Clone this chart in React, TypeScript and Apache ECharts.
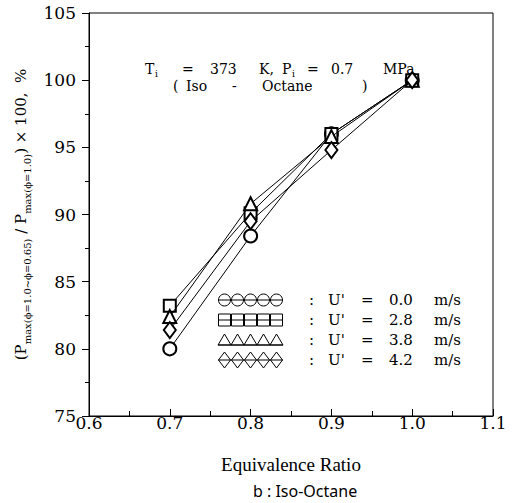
import React, { useEffect, useRef } from "react";
import * as echarts from "echarts";

const phi = [0.7, 0.8, 0.9, 1.0];
const u00 = [80.0, 88.4, 96.0, 100.0];
const u28 = [83.2, 90.1, 96.0, 100.0];
const u38 = [82.4, 90.8, 95.8, 100.0];
const u42 = [81.4, 89.5, 94.8, 100.0];
const speeds = ["0.0", "2.8", "3.8", "4.2"];
const seriesNames = ["U' = 0.0 m/s", "U' = 2.8 m/s", "U' = 3.8 m/s", "U' = 4.2 m/s"];
const symbols = ["emptyCircle", "emptyRect", "emptyTriangle", "emptyDiamond"];
const symbolSizes: any[] = [13, 12, 13, [12, 16]];

const SERIF = "DejaVu Serif";

function legendGraphics() {
  const els: any[] = [];
  const rowsY = [300, 320, 340, 360];
  const x0 = 218;
  const step = 13;
  rowsY.forEach((y, r) => {
    const lineY = r === 2 ? y + 5 : y;
    els.push({
      type: "line",
      shape: { x1: x0, y1: lineY, x2: x0 + step * 5, y2: lineY },
      style: { stroke: "#000", lineWidth: 1 },
    });
    for (let i = 0; i < 5; i++) {
      const cx = x0 + step / 2 + i * step;
      const st = { fill: "none", stroke: "#000", lineWidth: 1 };
      if (r === 0) els.push({ type: "circle", shape: { cx, cy: y, r: 6 }, style: st });
      else if (r === 1) els.push({ type: "rect", shape: { x: cx - 6, y: y - 6, width: 12, height: 12 }, style: st });
      else if (r === 2)
        els.push({ type: "polygon", shape: { points: [[cx - 6.5, y + 5], [cx, y - 6], [cx + 6.5, y + 5]] }, style: st });
      else
        els.push({ type: "polygon", shape: { points: [[cx, y - 8], [cx + 6, y], [cx, y + 8], [cx - 6, y]] }, style: st });
    }
    const font = { fontFamily: SERIF, fontSize: 15, fill: "#000", verticalAlign: "middle", align: "left" };
    els.push({ type: "text", x: 309, y, style: { ...font, text: ":" } });
    els.push({ type: "text", x: 328, y, style: { ...font, text: "U'" } });
    els.push({ type: "text", x: 361, y, style: { ...font, text: "=" } });
    els.push({ type: "text", x: 389, y, style: { ...font, text: speeds[r] } });
    els.push({ type: "text", x: 434, y, style: { ...font, text: "m/s" } });
  });
  return els;
}

function titleGraphics() {
  const els: any[] = [];
  const base = { fontFamily: SERIF, fontSize: 14, fill: "#000", verticalAlign: "middle", align: "left" };
  const sub = { fontFamily: SERIF, fontSize: 9, fill: "#000", verticalAlign: "middle", align: "left" };
  const y1 = 69;
  els.push({ type: "text", x: 145, y: y1, style: { ...base, text: "T" } });
  els.push({ type: "text", x: 155, y: y1 + 5, style: { ...sub, text: "i" } });
  els.push({ type: "text", x: 182, y: y1, style: { ...base, text: "=" } });
  els.push({ type: "text", x: 210, y: y1, style: { ...base, text: "373" } });
  els.push({ type: "text", x: 259, y: y1, style: { ...base, text: "K," } });
  els.push({ type: "text", x: 282, y: y1, style: { ...base, text: "P" } });
  els.push({ type: "text", x: 292, y: y1 + 5, style: { ...sub, text: "i" } });
  els.push({ type: "text", x: 307, y: y1, style: { ...base, text: "=" } });
  els.push({ type: "text", x: 331, y: y1, style: { ...base, text: "0.7" } });
  els.push({ type: "text", x: 383, y: y1, style: { ...base, text: "MPa" } });
  const y2 = 86;
  els.push({ type: "text", x: 173, y: y2, style: { ...base, text: "(" } });
  els.push({ type: "text", x: 186, y: y2, style: { ...base, text: "Iso" } });
  els.push({ type: "text", x: 232, y: y2, style: { ...base, text: "-" } });
  els.push({ type: "text", x: 262, y: y2, style: { ...base, text: "Octane" } });
  els.push({ type: "text", x: 362, y: y2, style: { ...base, text: ")" } });
  els.push({
    type: "text",
    x: 253,
    y: 491,
    style: { fontFamily: "Noto Sans", fontSize: 16, fill: "#000", verticalAlign: "middle", align: "left", text: "b : Iso-Octane" },
  });
  return els;
}

export default function App() {
  const ref = useRef<HTMLDivElement>(null);
  useEffect(() => {
    if (!ref.current) return;
    const chart = echarts.init(ref.current, undefined, { renderer: "svg" });
    const data = [u00, u28, u38, u42];
    chart.setOption({
      animation: false,
      backgroundColor: "#fff",
      grid: { left: 89, top: 13, right: 23, bottom: 87, show: true, borderColor: "#000", borderWidth: 1, backgroundColor: "transparent" },
      xAxis: {
        type: "value",
        min: 0.6,
        max: 1.1,
        interval: 0.1,
        name: "Equivalence Ratio",
        nameLocation: "middle",
        nameGap: 39,
        nameTextStyle: { fontFamily: "Liberation Serif", fontSize: 19, color: "#000" },
        axisLine: { onZero: false, lineStyle: { color: "#000", width: 1 } },
        axisTick: { show: true, inside: true, length: 7, lineStyle: { color: "#000" } },
        minorTick: { show: true, splitNumber: 2, length: 5, lineStyle: { color: "#000" } },
        splitLine: { show: false },
        axisLabel: { fontFamily: SERIF, fontSize: 17, color: "#000", margin: -2, formatter: (v: number) => v.toFixed(1) },
      },
      yAxis: {
        type: "value",
        min: 75,
        max: 105,
        interval: 5,
        name:
          "{a|(P}{s|max(\u03d5=1.0~\u03d5=0.65)}{a| / P}{s|max(\u03d5=1.0)}{a|) \u00d7 100,  %}",
        nameLocation: "middle",
        nameGap: 56,
        nameRotate: 90,
        nameTextStyle: {
          rich: {
            a: { fontFamily: SERIF, fontSize: 15, color: "#000", lineHeight: 18, verticalAlign: "bottom" },
            s: { fontFamily: SERIF, fontSize: 10, color: "#000", lineHeight: 18, verticalAlign: "bottom", padding: [0, 0, -4, 0] },
          },
        },
        axisLine: { show: true, lineStyle: { color: "#000", width: 1 } },
        axisTick: { show: true, inside: false, length: 7, lineStyle: { color: "#000" } },
        minorTick: { show: true, splitNumber: 2, length: 4, lineStyle: { color: "#000" } },
        splitLine: { show: false },
        axisLabel: { fontFamily: SERIF, fontSize: 17, color: "#000", margin: 13 },
      },
      series: data.map((d, i) => ({
        type: "line",
        name: seriesNames[i],
        data: d.map((v, j) => [phi[j], v]),
        symbol: symbols[i],
        symbolSize: symbolSizes[i],
        lineStyle: { color: "#000", width: 1 },
        itemStyle: { color: "#000", borderColor: "#000", borderWidth: 1 },
        z: 2 + i,
      })),
      graphic: [...legendGraphics(), ...titleGraphics()],
    });
    return () => chart.dispose();
  }, []);
  return <div ref={ref} style={{ width: 516, height: 503, position: "absolute", left: 0, top: 0 }} />;
}
